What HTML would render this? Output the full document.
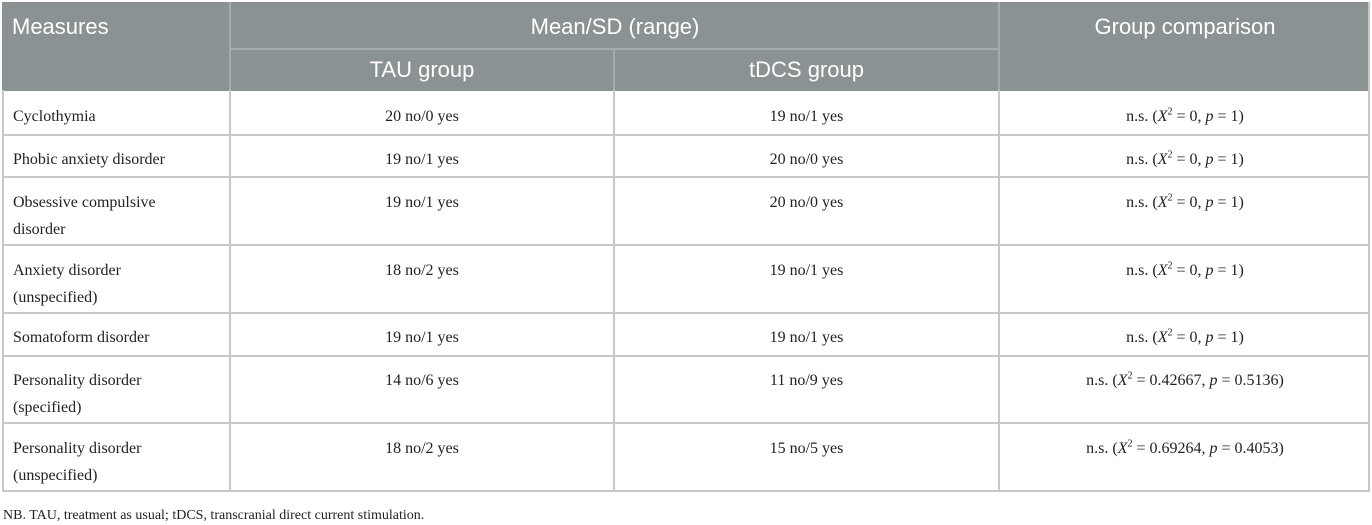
<!DOCTYPE html>
<html><head><meta charset="utf-8"><style>
body{margin:0;width:1372px;height:521px;background:#fff;position:relative;overflow:hidden}
.hd{position:absolute;background:#8b9294}
.t{position:absolute;font-family:"Liberation Sans",sans-serif;color:#fff;font-size:22px;white-space:nowrap}
.b{position:absolute;font-family:"Liberation Serif",serif;color:#222;font-size:16px;white-space:nowrap;line-height:27px}
.h{position:absolute;height:2px;background:#c8c8c8}
.v{position:absolute;width:2px;background:#c8c8c8}
.c{text-align:center}
i{font-style:italic}
sup{font-size:10px;line-height:0}
</style></head><body>
<div class="hd" style="left:2px;top:2px;width:1368px;height:89px"></div>
<div class="v" style="left:229px;top:2px;height:89px;background:#a5abad"></div>
<div class="v" style="left:998px;top:2px;height:89px;background:#a5abad"></div>
<div class="h" style="left:229px;top:48px;width:771px;background:#a5abad"></div>
<div class="v" style="left:613px;top:49px;height:42px;background:#a5abad"></div>
<div class="t" style="left:12px;top:14px">Measures</div>
<div class="t c" style="left:230px;width:770px;top:14px">Mean/SD (range)</div>
<div class="t c" style="left:1000px;width:370px;top:14px">Group comparison</div>
<div class="t c" style="left:230px;width:384px;top:57px">TAU group</div>
<div class="t c" style="left:614px;width:385px;top:57px">tDCS group</div>
<div class="v" style="left:2px;top:90px;height:402px"></div>
<div class="v" style="left:229px;top:90px;height:402px"></div>
<div class="v" style="left:613px;top:90px;height:402px"></div>
<div class="v" style="left:998px;top:90px;height:402px"></div>
<div class="v" style="left:1368px;top:2px;height:490px"></div>
<div class="h" style="left:2px;top:134px;width:1368px"></div>
<div class="h" style="left:2px;top:176px;width:1368px"></div>
<div class="h" style="left:2px;top:244px;width:1368px"></div>
<div class="h" style="left:2px;top:312px;width:1368px"></div>
<div class="h" style="left:2px;top:355px;width:1368px"></div>
<div class="h" style="left:2px;top:422px;width:1368px"></div>
<div class="h" style="left:2px;top:490px;width:1368px"></div>

<div class="b" style="left:13px;top:103px">Cyclothymia</div>
<div class="b c" style="left:230px;width:384px;top:103px">20 no/0 yes</div>
<div class="b c" style="left:614px;width:385px;top:103px">19 no/1 yes</div>
<div class="b c" style="left:1000px;width:370px;top:103px">n.s. (<i>X</i><sup>2</sup> = 0, <i>p</i> = 1)</div>

<div class="b" style="left:13px;top:146px">Phobic anxiety disorder</div>
<div class="b c" style="left:230px;width:384px;top:146px">19 no/1 yes</div>
<div class="b c" style="left:614px;width:385px;top:146px">20 no/0 yes</div>
<div class="b c" style="left:1000px;width:370px;top:146px">n.s. (<i>X</i><sup>2</sup> = 0, <i>p</i> = 1)</div>

<div class="b" style="left:13px;top:189px">Obsessive compulsive<br>disorder</div>
<div class="b c" style="left:230px;width:384px;top:189px">19 no/1 yes</div>
<div class="b c" style="left:614px;width:385px;top:189px">20 no/0 yes</div>
<div class="b c" style="left:1000px;width:370px;top:189px">n.s. (<i>X</i><sup>2</sup> = 0, <i>p</i> = 1)</div>

<div class="b" style="left:13px;top:257px">Anxiety disorder<br>(unspecified)</div>
<div class="b c" style="left:230px;width:384px;top:257px">18 no/2 yes</div>
<div class="b c" style="left:614px;width:385px;top:257px">19 no/1 yes</div>
<div class="b c" style="left:1000px;width:370px;top:257px">n.s. (<i>X</i><sup>2</sup> = 0, <i>p</i> = 1)</div>

<div class="b" style="left:13px;top:324px">Somatoform disorder</div>
<div class="b c" style="left:230px;width:384px;top:324px">19 no/1 yes</div>
<div class="b c" style="left:614px;width:385px;top:324px">19 no/1 yes</div>
<div class="b c" style="left:1000px;width:370px;top:324px">n.s. (<i>X</i><sup>2</sup> = 0, <i>p</i> = 1)</div>

<div class="b" style="left:13px;top:367px">Personality disorder<br>(specified)</div>
<div class="b c" style="left:230px;width:384px;top:367px">14 no/6 yes</div>
<div class="b c" style="left:614px;width:385px;top:367px">11 no/9 yes</div>
<div class="b c" style="left:1000px;width:370px;top:367px">n.s. (<i>X</i><sup>2</sup> = 0.42667, <i>p</i> = 0.5136)</div>

<div class="b" style="left:13px;top:435px">Personality disorder<br>(unspecified)</div>
<div class="b c" style="left:230px;width:384px;top:435px">18 no/2 yes</div>
<div class="b c" style="left:614px;width:385px;top:435px">15 no/5 yes</div>
<div class="b c" style="left:1000px;width:370px;top:435px">n.s. (<i>X</i><sup>2</sup> = 0.69264, <i>p</i> = 0.4053)</div>

<div class="b" style="left:3px;top:507px;font-size:14px;line-height:18px">NB. TAU, treatment as usual; tDCS, transcranial direct current stimulation.</div>
</body></html>
